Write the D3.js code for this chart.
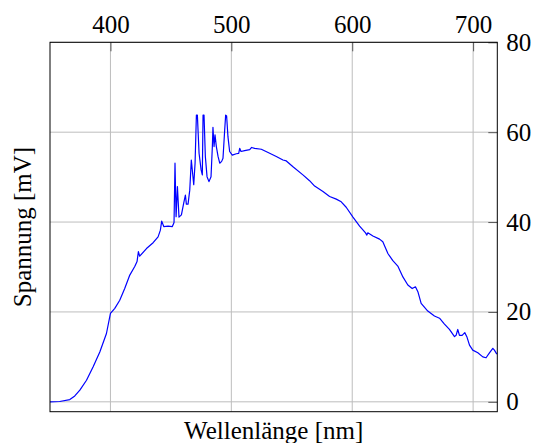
<!DOCTYPE html>
<html>
<head>
<meta charset="utf-8">
<script src="https://cdn.jsdelivr.net/npm/d3@7"></script>
<style>
  html, body { margin: 0; padding: 0; background: #fff; }
  svg { display: block; }
</style>
</head>
<body>
<svg id="chart" width="539" height="443"></svg>
<script>
// Spectrum: wavelength [nm] and measured voltage [mV]
const wavelength = [
  350, 358, 366.4, 370.5, 374.7, 380.2, 385.7, 391.2, 396.7, 400, 403.6, 407.7, 411.8, 416, 420.1,
  422, 423.1, 424.2, 429.8, 435.3, 439.4, 441.3, 442.4, 444.1, 447.7, 451.2, 452.6, 453.4, 454.3,
  455.4, 456.7, 458.7, 460.6, 462, 462.8, 464.2, 465.6, 466.9, 468.9, 470, 471.1, 471.9, 473.3,
  475, 476, 476.6, 477.4, 478.5, 479.9, 481.5, 483.2, 484.3, 484.8, 485.7, 486.5, 487.6, 489,
  490.4, 492, 493.1, 494.5, 495.3, 496.1, 497.2, 498.6, 500.8, 504.1, 506.1, 506.9, 508, 511,
  515.2, 516.8, 519.3, 524.8, 531.7, 537.2, 542.7, 545.5, 551, 559.2, 564.7, 568.9, 575.8, 581.3,
  586.8, 590.9, 595, 600.6, 606.1, 611, 612.1, 612.9, 617.1, 622.6, 625.3, 629.5, 633.6, 637.7,
  641.9, 646, 649.6, 652.3, 654.3, 657, 662.5, 668, 672.2, 676.3, 680.4, 684.6, 685.9, 687.3,
  688.7, 690.9, 693.1, 694.8, 697, 699.7, 703.9, 708, 710.7, 713.5, 716.3, 717.6, 719.6
];
const voltage = [
  0, 0.07, 0.5, 1.3, 2.6, 4.8, 7.8, 11.1, 15.2, 19.7, 20.8, 22.6, 25.2, 28.2, 30.1,
  31.2, 33.4, 32.4, 34.1, 35.4, 36.7, 38.2, 40.2, 39.0, 39.1, 39.0, 39.9, 53.1, 41.2,
  47.9, 41.1, 41.6, 44.2, 46.0, 44.0, 44.0, 47.1, 53.8, 48.3, 53.1, 63.8, 63.8, 55.3,
  51.6, 50.5, 63.8, 63.8, 54.6, 50.1, 49.0, 50.1, 56.8, 61.1, 56.8, 59.4, 56.8, 54.6,
  53.1, 53.5, 54.2, 60.5, 63.8, 63.6, 59.0, 55.7, 54.9, 55.2, 55.3, 56.4, 55.7, 55.9,
  56.1, 56.6, 56.4, 56.2, 55.3, 54.6, 53.8, 53.6, 52.3, 50.5, 49.2, 48.0, 46.8, 45.7,
  45.1, 44.5, 43.3, 41.1, 39.1, 37.6, 37.1, 37.6, 36.9, 36.2, 35.6, 33.0, 31.4, 30.2,
  27.8, 26.0, 25.2, 25.6, 24.5, 21.9, 20.2, 19.1, 18.6, 17.3, 16.1, 14.5, 14.8, 16.1,
  14.8, 14.8, 15.4, 14.5, 12.6, 11.5, 10.9, 10.0, 9.8, 10.9, 11.9, 11.5, 10.6
];
const xTicks = [400, 500, 600, 700];
const yTicks = [0, 20, 40, 60, 80];
const xTitle = "Wellenlänge [nm]";
const yTitle = "Spannung [mV]";

(function () {
  const serif = '"Liberation Serif"';
  const points = wavelength.map((w, i) => ({ w, v: voltage[i] }));

  const svg = d3.select("#chart");
  const x0 = 50, x1 = 497.3, y0 = 42.3, y1 = 411.7;

  const x = d3.scaleLinear().domain([350, 720]).range([x0, x1]);
  const y = d3.scaleLinear().domain([-2.2, 80]).range([y1, y0]);

  // Grid
  const grid = svg.append("g").attr("stroke", "#bdbdbd").attr("stroke-width", 1);
  grid.selectAll("line.gx").data(xTicks).join("line").attr("class", "gx")
    .attr("x1", d => x(d)).attr("x2", d => x(d))
    .attr("y1", y0).attr("y2", y1);
  grid.selectAll("line.gy").data(yTicks).join("line").attr("class", "gy")
    .attr("x1", x0).attr("x2", x1)
    .attr("y1", d => y(d)).attr("y2", d => y(d));

  // Top axis: inward ticks, labels above
  const xAxis = d3.axisTop(x).tickValues(xTicks).tickSize(-9).tickPadding(9);
  const gx = svg.append("g").attr("transform", `translate(0,${y0})`).call(xAxis);
  gx.select(".domain").remove();
  gx.selectAll(".tick line").attr("stroke", "#555");
  gx.selectAll(".tick text").attr("fill", "#000")
    .style("font-family", serif).style("font-size", "25px");

  // Right axis: inward ticks, labels to the right
  const yAxis = d3.axisRight(y).tickValues(yTicks).tickSize(-9).tickPadding(9);
  const gy = svg.append("g").attr("transform", `translate(${x1},0)`).call(yAxis);
  gy.select(".domain").remove();
  gy.selectAll(".tick line").attr("stroke", "#555");
  gy.selectAll(".tick text").attr("fill", "#000")
    .style("font-family", serif).style("font-size", "25px");

  // Spectrum line
  const line = d3.line().x(d => x(d.w)).y(d => y(d.v));
  svg.append("path").datum(points)
    .attr("d", line)
    .attr("fill", "none")
    .attr("stroke", "#0000ff")
    .attr("stroke-width", 1.2)
    .attr("stroke-linejoin", "round");

  // Frame
  svg.append("rect")
    .attr("x", x0).attr("y", y0)
    .attr("width", x1 - x0).attr("height", y1 - y0)
    .attr("fill", "none").attr("stroke", "#000").attr("stroke-width", 1);

  // Axis titles
  svg.append("text")
    .attr("x", (x0 + x1) / 2).attr("y", 439)
    .attr("text-anchor", "middle")
    .style("font-family", serif).style("font-size", "25px")
    .text(xTitle);
  svg.append("text")
    .attr("transform", `translate(31,${(y0 + y1) / 2}) rotate(-90)`)
    .attr("text-anchor", "middle")
    .style("font-family", serif).style("font-size", "25px")
    .text(yTitle);
})();
</script>
</body>
</html>
